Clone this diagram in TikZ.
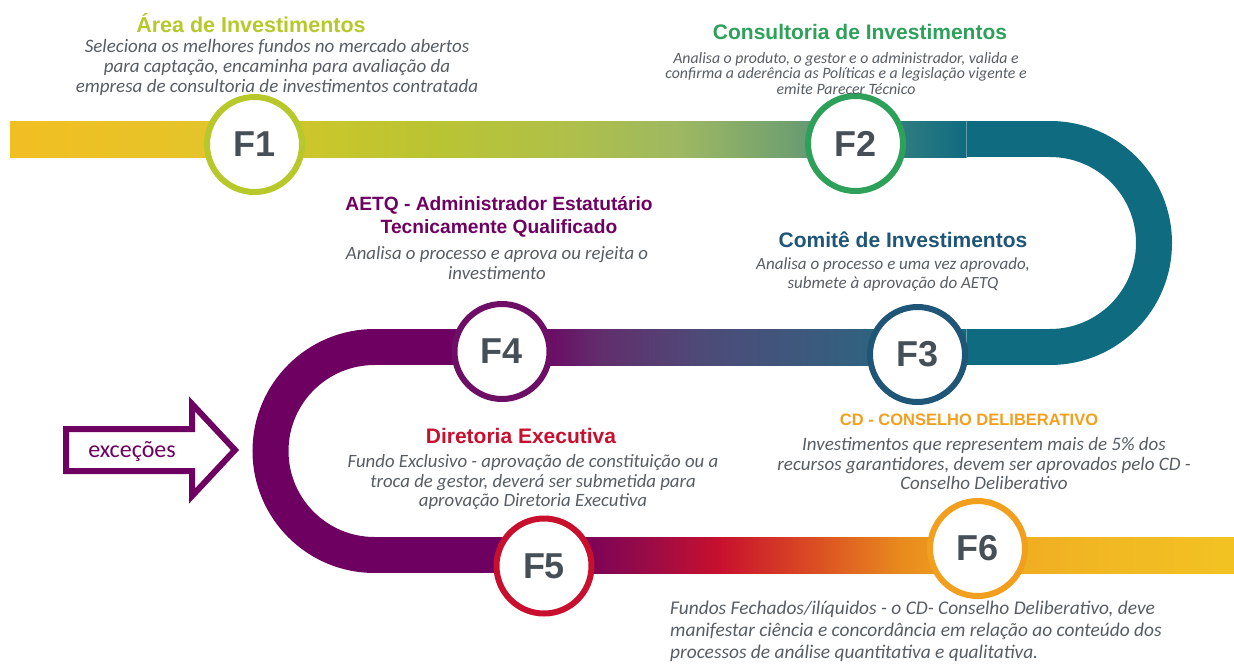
\documentclass[tikz,border=0pt]{standalone}
\usepackage{fontspec}
\setmainfont{Carlito}
\newfontfamily\headfont{Liberation Sans}
\newfontfamily\bodyfont{Carlito}
\definecolor{cA}{HTML}{B7C82A}
\definecolor{cB}{HTML}{2DA05A}
\definecolor{cC}{HTML}{1F5678}
\definecolor{cD}{HTML}{6E0F66}
\definecolor{cE}{HTML}{C8102E}
\definecolor{cF}{HTML}{F29F1E}
\definecolor{tealb}{HTML}{0F6B80}
\definecolor{purb}{HTML}{6E0062}
\definecolor{fgray}{HTML}{464E56}
\definecolor{bgray}{HTML}{575D64}
% top band stops
\definecolor{t0}{HTML}{F2BF22}
\definecolor{t1}{HTML}{E4C42A}
\definecolor{t2}{HTML}{C8C62C}
\definecolor{t3}{HTML}{BAC432}
\definecolor{t4}{HTML}{B0C048}
\definecolor{t5}{HTML}{9EB862}
\definecolor{t6}{HTML}{70A070}
\definecolor{t7}{HTML}{3A8280}
% middle band stops
\definecolor{m1}{HTML}{33617F}
\definecolor{m2}{HTML}{4E4A78}
\definecolor{m3}{HTML}{612E6C}
% bottom band stops
\definecolor{b1}{HTML}{960A48}
\definecolor{b2}{HTML}{DC5222}
\definecolor{b3}{HTML}{E88A1E}
\definecolor{b4}{HTML}{EFA620}
\definecolor{b5}{HTML}{F1B823}
\definecolor{b6}{HTML}{F2C222}
\tikzset{
  fcirc/.style={circle, fill=white, line width=6pt, minimum size=95pt, inner sep=0pt,
    font=\headfont\bfseries\fontsize{36}{36}\selectfont, text=fgray},
  ttl/.style={inner sep=0pt, align=center, font=\headfont\bfseries\fontsize{21}{23}\selectfont},
  body/.style={inner sep=0pt, align=center, text=bgray},
  band/.style={line width=36pt}
}
\newcommand{\seg}[6]{\shade[left color=#5,right color=#6] (#1,#3) rectangle (#2,#4);}
\begin{document}
\begin{tikzpicture}[x=1pt,y=-1pt]
\useasboundingbox (0,0) rectangle (1234,664);
% ---- top band
\seg{10}{200.6}{121}{157}{t0}{t1}
\seg{200}{330.6}{121}{157}{t1}{t2}
\seg{330}{430.6}{121}{157}{t2}{t3}
\seg{430}{560.6}{121}{157}{t3}{t4}
\seg{560}{680.6}{121}{157}{t4}{t5}
\seg{680}{790.6}{121}{157}{t5}{t6}
\seg{790}{880.6}{121}{157}{t6}{t7}
\seg{880}{966.6}{121}{157}{t7}{tealb}
\fill[tealb] (966,121) rectangle (1050.5,157);
\draw[band, tealb] (1050,139) arc[start angle=-90, end angle=90, radius=104];
\fill[tealb] (1050.5,329) rectangle (940,365);
\draw[white, opacity=0.35, line width=0.8pt] (966,121) -- (966,157) (966,329) -- (966,365);
% ---- middle band
\seg{860}{940.6}{329}{365}{m1}{tealb}
\seg{700}{860.6}{329}{365}{m2}{m1}
\seg{600}{700.6}{329}{365}{m3}{m2}
\seg{530}{600.6}{329}{365}{purb}{m3}
\fill[purb] (374,329) rectangle (530.6,365);
\draw[band, purb] (374.5,347) arc[start angle=-90, end angle=-270, radius=104];
% ---- bottom band
\fill[purb] (374,537) rectangle (560.6,573);
\seg{560}{640.6}{537}{573}{purb}{b1}
\seg{640}{720.6}{537}{573}{b1}{cE}
\seg{720}{820.6}{537}{573}{cE}{b2}
\seg{820}{900.6}{537}{573}{b2}{b3}
\seg{900}{970.6}{537}{573}{b3}{b4}
\seg{970}{1100.6}{537}{573}{b4}{b5}
\seg{1100}{1234}{537}{573}{b5}{b6}
% ---- circles
\node[fcirc, draw=cA] (f1) at (254.5,144.5) {F1};
\node[fcirc, draw=cB] (f2) at (855.5,143.5) {F2};
\node[fcirc, draw=cC] (f3) at (917.5,354.5) {F3};
\node[fcirc, draw=cD] (f4) at (502,351.5) {F4};
\node[fcirc, draw=cE] (f5) at (544,566) {F5};
\node[fcirc, draw=cF] (f6) at (977.5,548.5) {F6};
% ---- exceptions arrow
\draw[purb, line width=6pt, fill=white, miter limit=10]
  (66,429) -- (192,429) -- (192,404) -- (235,450) -- (192,496) -- (192,471) -- (66,471) -- cycle;
\node[inner sep=0pt, text=purb, font=\bodyfont\fontsize{24}{24}\selectfont] (exc) at (132,451) {exceções};
% ---- texts
\node[ttl, text=cA, font=\headfont\bfseries\fontsize{21.5}{23}\selectfont] (t1) at (251,23) {Área de Investimentos};
\node[body, font=\bodyfont\itshape\fontsize{19}{20}\selectfont] (d1) at (277,67) {Seleciona os melhores fundos no mercado abertos\\para captação, encaminha para avaliação da\\empresa de consultoria de investimentos contratada};
\node[ttl, text=cB] (t2) at (860,32) {Consultoria de Investimentos};
\node[body, font=\bodyfont\itshape\fontsize{15.8}{15.8}\selectfont] (d2) at (846,73.5) {Analisa o produto, o gestor e o administrador, valida e\\confirma a aderência as Políticas e a legislação vigente e\\emite Parecer Técnico};
\node[ttl, text=purb, font=\headfont\bfseries\fontsize{19.2}{23}\selectfont] (t4) at (499,216.5) {AETQ - Administrador Estatutário\\Tecnicamente Qualificado};
\node[body, font=\bodyfont\itshape\fontsize{18.8}{20}\selectfont] (d4) at (497,263) {Analisa o processo e aprova ou rejeita o\\investimento};
\node[ttl, text=cC] (t3) at (903,240) {Comitê de Investimentos};
\node[body, font=\bodyfont\itshape\fontsize{17}{19}\selectfont] (d3) at (893,274.5) {Analisa o processo e uma vez aprovado,\\submete à aprovação do AETQ};
\node[ttl, text=cF, font=\headfont\bfseries\fontsize{16.5}{18}\selectfont] (t6) at (969,420) {CD - CONSELHO DELIBERATIVO};
\node[body, font=\bodyfont\itshape\fontsize{19}{19.5}\selectfont] (d6) at (984,463.5) {Investimentos que representem mais de 5\% dos\\recursos garantidores, devem ser aprovados pelo CD -\\Conselho Deliberativo};
\node[ttl, text=cE] (t5) at (521,436) {Diretoria Executiva};
\node[body, font=\bodyfont\itshape\fontsize{18.8}{19.5}\selectfont] (d5) at (533,482.5) {Fundo Exclusivo - aprovação de constituição ou a\\troca de gestor, deverá ser submetida para\\aprovação Diretoria Executiva};
\node[body, align=left, anchor=west, font=\bodyfont\itshape\fontsize{19.4}{22}\selectfont] (d7) at (670,631) {Fundos Fechados/ilíquidos - o CD- Conselho Deliberativo, deve\\manifestar ciência e concordância em relação ao conteúdo dos\\processos de análise quantitativa e qualitativa.};
\end{tikzpicture}
\end{document}
